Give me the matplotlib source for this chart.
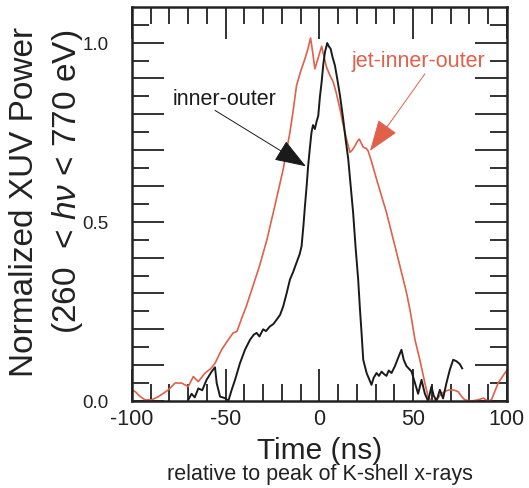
import matplotlib
matplotlib.use("Agg")
import matplotlib.pyplot as plt
from matplotlib.ticker import MultipleLocator, FixedLocator, FuncFormatter

plt.rcParams['font.family'] = ['Liberation Sans', 'DejaVu Sans']
plt.rcParams['mathtext.fontset'] = 'custom'
plt.rcParams['mathtext.it'] = 'Liberation Sans:italic'
plt.rcParams['mathtext.rm'] = 'Liberation Sans'
plt.rcParams['axes.unicode_minus'] = False

# --------------------------------------------------------------------------- #
# Data
# --------------------------------------------------------------------------- #
t_jet = [-100, -98, -96.6, -95, -93, -89.5, -86, -83, -80.6, -77, -73.5, -70,
         -67.3, -64.6, -61, -58, -55.7, -52.2, -48.6, -46, -44, -41.5, -39,
         -35.5, -32, -28, -24.6, -22, -19.3, -17.5, -15.7, -14, -12.2, -10,
         -7.7, -6, -4.7, -3.5, -2.4, -0.5, 1.2, 2.5, 3.8, 5.5, 7.4, 9, 11,
         12.3, 13.6, 15, 16.3, 17.5, 19, 20.3, 21.3, 22.3, 23.4, 25, 26, 28,
         30.5, 33, 35.8, 38.5, 41.2, 44, 46.5, 48.5, 51, 53.6, 56.3, 58, 59.8,
         62.5, 65.2, 67.5, 69.6, 72, 74, 76, 77.6, 81.2, 84.7, 87.4, 90, 91.8,
         93.5, 95.4, 99, 100]
p_jet = [0.031, 0.025, 0.017, 0.010, 0.003, 0.003, 0.012, 0.022, 0.031, 0.050,
         0.050, 0.040, 0.068, 0.054, 0.078, 0.090, 0.105, 0.143, 0.171, 0.190,
         0.194, 0.230, 0.264, 0.320, 0.376, 0.450, 0.526, 0.585, 0.647, 0.700,
         0.750, 0.810, 0.880, 0.920, 0.955, 0.985, 1.013, 0.970, 0.927, 0.960,
         0.990, 0.960, 0.932, 0.910, 0.890, 0.860, 0.815, 0.780, 0.750, 0.720,
         0.694, 0.700, 0.712, 0.725, 0.731, 0.720, 0.708, 0.705, 0.698, 0.665,
         0.619, 0.575, 0.526, 0.470, 0.414, 0.355, 0.302, 0.250, 0.171, 0.115,
         0.050, 0.012, 0.000, 0.003, 0.021, 0.028, 0.031, 0.030, 0.026, 0.012,
         0.003, 0.000, 0.003, 0.008, 0.000, 0.003, 0.025, 0.050, 0.078, 0.085]

t_io = [-70, -68.2, -66.5, -64.6, -62.5, -60.2, -57.5, -55.7, -54.8, -53,
        -50.4, -48.6, -46.8, -45, -42.4, -39.7, -37, -35, -33.5, -32, -30,
        -28.5, -26.4, -24.5, -22.8, -21, -19.3, -17.5, -15.7, -14, -12.2,
        -10.5, -9.5, -8.5, -7.7, -6.8, -6, -5, -4.2, -3.4, -2.4, -1.5, -0.6,
        0.3, 1.2, 2.1, 3, 4.2, 5, 6, 7, 8.3, 9.5, 11, 12.7, 14, 15.4, 16.7, 18,
        19.3, 20.7, 21.6, 22.5, 23.4, 25.2, 27.8, 29, 30.5, 31.8, 33.2, 34.5,
        35.8, 37, 38.5, 40.3, 42, 43.8, 45, 46.5, 47.8, 49.2, 51, 52.7, 54.5,
        56.3, 58, 59.8, 61, 62.5, 64.3, 66, 67.8, 69.6, 71.4, 73.1, 74.9, 76.2]
p_io = [0.003, 0.020, 0.010, 0.035, 0.030, 0.059, 0.082, 0.094, 0.050, 0.012,
        0.008, 0.000, 0.031, 0.059, 0.105, 0.143, 0.171, 0.185, 0.190, 0.180,
        0.200, 0.195, 0.208, 0.215, 0.227, 0.240, 0.264, 0.300, 0.339, 0.360,
        0.386, 0.410, 0.432, 0.490, 0.544, 0.600, 0.656, 0.710, 0.750, 0.770,
        0.759, 0.780, 0.796, 0.850, 0.890, 0.940, 0.974, 0.999, 0.990, 0.983,
        0.960, 0.936, 0.900, 0.852, 0.787, 0.730, 0.675, 0.600, 0.526, 0.430,
        0.339, 0.260, 0.190, 0.115, 0.078, 0.045, 0.065, 0.078, 0.070, 0.082,
        0.075, 0.070, 0.085, 0.078, 0.097, 0.120, 0.143, 0.115, 0.097, 0.090,
        0.082, 0.050, 0.020, 0.059, 0.020, 0.000, 0.040, 0.015, 0.000, 0.031,
        0.007, 0.050, 0.087, 0.115, 0.111, 0.103, 0.091]

RED = "#e0604a"
BLACK = "#1a1a1a"

fig = plt.figure(figsize=(5.29, 4.89), dpi=100)
ax = fig.add_axes([0.2495, 0.178, 0.7085, 0.806])

ax.plot(t_jet, p_jet, color=RED, lw=1.2)
ax.plot(t_io, p_io, color=BLACK, lw=1.4)

ax.set_xlim(-100, 100)
ax.set_ylim(0, 1.1)

ax.xaxis.set_major_locator(MultipleLocator(50))
ax.xaxis.set_minor_locator(MultipleLocator(10))
ax.yaxis.set_major_locator(FixedLocator([i / 10 for i in range(11)]))
ax.yaxis.set_minor_locator(FixedLocator([0.05 + i / 10 for i in range(11)]))
ax.yaxis.set_major_formatter(
    FuncFormatter(lambda v, pos: f"{v:.1f}" if abs(v * 2 - round(v * 2)) < 1e-6 else ""))

ax.tick_params(which="both", direction="in", top=True, right=True,
               width=1.3, color="#222222", labelcolor="#222222")
ax.tick_params(which="major", length=23)
ax.tick_params(which="minor", length=12)
ax.tick_params(axis="x", which="major", labelsize=15.5, pad=5)
ax.tick_params(axis="y", which="major", labelsize=13.5, pad=17)
for s in ax.spines.values():
    s.set_linewidth(1.8)
    s.set_color("#222222")

# axis labels
fig.text(0.047, 0.587, "Normalized XUV Power", rotation=90, fontsize=24,
         ha="center", va="center", color="#222222")
fig.text(0.127, 0.628, "(260  < $h\\nu$ < 770 eV)", rotation=90, fontsize=24,
         ha="center", va="center", color="#222222")
fig.text(0.605, 0.062, "Time (ns)", fontsize=21.5, ha="center", va="baseline",
         color="#222222")
fig.text(0.605, 0.019, "relative to peak of K-shell x-rays", fontsize=15.5,
         ha="center", va="baseline", color="#222222")

# annotations
ax.text(-50.4, 0.843, "inner-outer", fontsize=15.5, ha="center", va="center",
        color=BLACK)
ax.annotate("", xy=(-7.2, 0.655), xytext=(-55.7, 0.811),
            arrowprops=dict(arrowstyle="-|>,head_length=1.0,head_width=0.36",
                            mutation_scale=20, color=BLACK, lw=0.7,
                            shrinkA=0, shrinkB=0))
ax.text(52.6, 0.95, "jet-inner-outer", fontsize=15.5, ha="center", va="center",
        color=RED)
ax.annotate("", xy=(27, 0.698), xytext=(56.3, 0.913),
            arrowprops=dict(arrowstyle="-|>,head_length=1.0,head_width=0.36",
                            mutation_scale=20, color=RED, lw=0.7,
                            shrinkA=0, shrinkB=0))

fig.savefig("out.png", dpi=100)
